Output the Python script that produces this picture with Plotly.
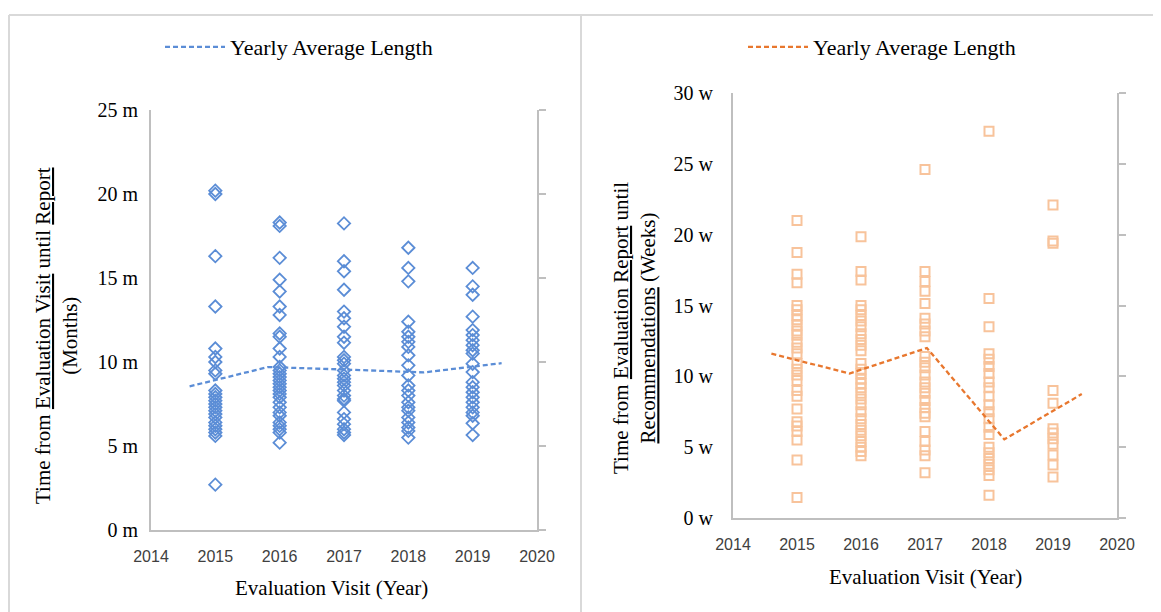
import plotly.graph_objects as go

# ---------------- data ----------------
years = [2015, 2016, 2017, 2018, 2019]

months_2015 = [20.2, 20.0, 16.3, 13.3, 10.8, 10.3, 10.0, 9.5, 9.3, 8.3, 8.1, 7.9, 7.7, 7.5, 7.3,
               7.1, 6.9, 6.7, 6.4, 6.2, 6.0, 5.8, 5.6, 2.7]
months_2016 = [18.3, 18.1, 16.2, 14.9, 14.2, 13.3, 12.8, 11.7, 11.5, 10.8, 10.3, 9.7, 9.5, 9.3,
               9.1, 8.9, 8.7, 8.5, 8.3, 8.1, 7.9, 7.6, 7.3, 7.0, 6.8, 6.4, 6.2, 6.0, 5.8, 5.2]
months_2017 = [18.25, 16.0, 15.4, 14.3, 13.0, 12.6, 12.1, 11.5, 11.15, 10.3, 10.1, 9.9, 9.5, 9.2,
               9.0, 8.8, 8.6, 8.3, 8.0, 7.8, 7.7, 7.0, 6.6, 6.3, 6.0, 5.8, 5.65]
months_2018 = [16.8, 15.6, 14.8, 12.4, 11.8, 11.5, 11.2, 10.9, 10.4, 9.8, 9.2, 8.6, 8.3, 8.0,
               7.6, 7.3, 7.1, 6.7, 6.4, 6.1, 5.9, 5.5]
months_2019 = [15.6, 14.5, 14.0, 12.7, 11.9, 11.6, 11.3, 11.0, 10.7, 10.5, 9.9, 9.4, 8.8, 8.5,
               8.2, 7.9, 7.6, 7.3, 7.0, 6.8, 6.35, 5.65]
months_by_year = [months_2015, months_2016, months_2017, months_2018, months_2019]

weeks_2015 = [21.0, 18.75, 17.2, 16.6, 15.0, 14.7, 14.3, 14.0, 13.6, 13.2, 12.9, 12.4, 12.0, 11.6,
              10.9, 10.5, 10.1, 9.7, 9.0, 8.6, 7.7, 6.8, 6.5, 6.1, 5.5, 4.1, 1.45]
weeks_2016 = [19.85, 17.4, 16.8, 15.0, 14.7, 14.3, 13.9, 13.5, 13.0, 12.6, 12.2, 11.8, 10.9, 10.5,
              10.2, 9.8, 9.5, 9.2, 8.8, 8.4, 8.0, 7.5, 7.0, 6.6, 6.2, 5.8, 5.4, 5.0, 4.7, 4.4]
weeks_2017 = [24.6, 17.4, 16.7, 16.0, 15.15, 14.1, 13.7, 13.2, 12.8, 11.4, 11.0, 10.6, 10.1, 9.6,
              9.2, 8.8, 8.3, 7.8, 7.4, 7.15, 6.1, 5.4, 4.8, 4.4, 3.2]
weeks_2018 = [27.3, 15.5, 13.5, 11.6, 11.2, 10.7, 10.2, 9.6, 9.2, 8.6, 8.0, 7.5, 7.0, 6.4, 5.9,
              5.0, 4.6, 4.2, 3.8, 3.4, 3.0, 1.6]
weeks_2019 = [22.1, 19.55, 19.4, 9.0, 8.1, 6.3, 6.0, 5.6, 5.2, 4.45, 3.75, 2.9]
weeks_by_year = [weeks_2015, weeks_2016, weeks_2017, weeks_2018, weeks_2019]

avg_x = [2014.6, 2015.82, 2017.03, 2018.24, 2019.45]
avg_months = [8.55, 9.7, 9.55, 9.38, 9.93]
avg_weeks = [11.6, 10.2, 12.0, 5.55, 8.75]

legend_label = "Yearly Average Length"
x_title = "Evaluation Visit (Year)"
y_title_left = "Time from <u>Evaluation Visit</u> until <u>Report</u><br>(Months)"
y_title_right = "Time from <u>Evaluation Report</u> until<br><u>Recommendations</u> (Weeks)"

# ---------------- style ----------------
OFF = 8                      # page body margin of the html page
W, H = 1161 - OFF, 612 - OFF
BLUE_MK = "#5B8DD6"
BLUE_LN = "#5B8DD6"
ORANGE_MK = "#F8C39B"
ORANGE_LN = "#E8772E"
AXIS_C = "#BFBFBF"
SERIF = "Liberation Serif, Times New Roman, serif"
SANS = "Liberation Sans, Arial, sans-serif"


def px_x(px):
    return (px - OFF) / W


def px_y(py):
    return (H - (py - OFF)) / H


fig = go.Figure()

# scatter points
for yr, vals in zip(years, months_by_year):
    fig.add_trace(go.Scatter(
        x=[yr] * len(vals), y=vals, mode="markers", showlegend=False,
        marker=dict(symbol="diamond-open", size=9.5, color=BLUE_MK, line=dict(width=1.8, color=BLUE_MK)),
        xaxis="x", yaxis="y", hoverinfo="skip"))
for yr, vals in zip(years, weeks_by_year):
    fig.add_trace(go.Scatter(
        x=[yr] * len(vals), y=vals, mode="markers", showlegend=False,
        marker=dict(symbol="square-open", size=9, color=ORANGE_MK, line=dict(width=2, color=ORANGE_MK)),
        xaxis="x2", yaxis="y2", hoverinfo="skip"))

# average lines (on the secondary axes)
fig.add_trace(go.Scatter(
    x=avg_x, y=avg_months, mode="lines", name=legend_label,
    line=dict(color=BLUE_LN, width=2.3, dash="5px,3px"),
    xaxis="x", yaxis="y3", legend="legend"))
fig.add_trace(go.Scatter(
    x=avg_x, y=avg_weeks, mode="lines", name=legend_label,
    line=dict(color=ORANGE_LN, width=2.3, dash="5px,3px"),
    xaxis="x2", yaxis="y4", legend="legend2"))

xaxis_common = dict(range=[2014, 2020], tick0=2014, dtick=1, showgrid=False, zeroline=False,
                    showline=True, linecolor=AXIS_C, linewidth=2, ticks="", automargin=False,
                    tickfont=dict(family=SANS, size=16, color="#404040"), ticklabelstandoff=11)
yaxis_common = dict(dtick=5, showgrid=False, zeroline=False, showline=True, linecolor=AXIS_C,
                    linewidth=2, ticks="", automargin=False,
                    tickfont=dict(family=SERIF, size=20, color="#000000"))
ysec_common = dict(dtick=5, showgrid=False, zeroline=False, showline=True, linecolor=AXIS_C,
                   linewidth=2, ticks="outside", ticklen=7, tickwidth=2, tickcolor=AXIS_C,
                   showticklabels=False, side="right", automargin=False)

legend_font = dict(family=SERIF, size=22, color="#000000")

fig.update_layout(
    width=W, height=H,
    autosize=False,
    margin=dict(l=0, r=0, t=0, b=0, pad=0, autoexpand=False),
    paper_bgcolor="white", plot_bgcolor="white",
    xaxis=dict(domain=[px_x(151), px_x(537)], anchor="y", **xaxis_common),
    yaxis=dict(domain=[px_y(530), px_y(110)], anchor="x", range=[0, 25], ticksuffix=" m",
               ticklabelstandoff=7, **yaxis_common),
    yaxis3=dict(overlaying="y", anchor="x", range=[0, 25], **ysec_common),
    xaxis2=dict(domain=[px_x(733), px_x(1117)], anchor="y2", **xaxis_common),
    yaxis2=dict(domain=[px_y(518), px_y(93)], anchor="x2", range=[0, 30], ticksuffix=" w",
                ticklabelstandoff=14, **yaxis_common),
    yaxis4=dict(overlaying="y2", anchor="x2", range=[0, 30], **ysec_common),
    legend=dict(x=px_x(160), y=px_y(47), xanchor="left", yanchor="middle", orientation="h",
                font=legend_font, itemwidth=60, bgcolor="rgba(0,0,0,0)"),
    legend2=dict(x=px_x(743), y=px_y(47), xanchor="left", yanchor="middle", orientation="h",
                 font=legend_font, itemwidth=60, bgcolor="rgba(0,0,0,0)"),
    showlegend=True,
)

# panel borders
border = dict(color="#D9D9D9", width=2)
fig.add_shape(type="line", xref="paper", yref="paper", x0=px_x(9), x1=1, y0=px_y(15), y1=px_y(15), line=border)
fig.add_shape(type="line", xref="paper", yref="paper", x0=px_x(9), x1=px_x(9), y0=px_y(15), y1=0, line=border)
fig.add_shape(type="line", xref="paper", yref="paper", x0=px_x(581), x1=px_x(581), y0=px_y(15), y1=0, line=border)

# axis titles
title_font = dict(family=SERIF, size=21, color="#000000")
fig.add_annotation(text=x_title, xref="paper", yref="paper", x=px_x(331), y=px_y(588),
                   showarrow=False, font=title_font, xanchor="center", yanchor="middle")
fig.add_annotation(text=x_title, xref="paper", yref="paper", x=px_x(925), y=px_y(577),
                   showarrow=False, font=title_font, xanchor="center", yanchor="middle")
fig.add_annotation(text=y_title_left, xref="paper", yref="paper", x=px_x(56), y=px_y(336),
                   showarrow=False, font=title_font, textangle=-90, xanchor="center", yanchor="middle")
fig.add_annotation(text=y_title_right, xref="paper", yref="paper", x=px_x(634), y=px_y(328),
                   showarrow=False, font=title_font, textangle=-90, xanchor="center", yanchor="middle")

fig.write_html("out.html", config={"responsive": False})
